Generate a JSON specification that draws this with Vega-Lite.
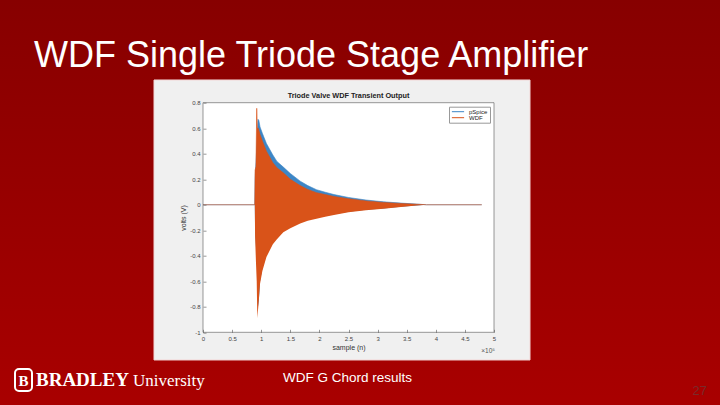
{
  "$schema": "https://vega.github.io/schema/vega-lite/v6.json",
  "autosize": {"type": "none"},
  "width": 291,
  "height": 229.6,
  "padding": {"left": 203, "top": 102.7, "right": 226, "bottom": 72.7},
  "background": "#990000",
  "config": {
    "font": "Liberation Sans",
    "view": {"stroke": null, "fill": null},
    "axis": {"zindex": 1, "grid": false, "domain": false, "labelFontSize": 6, "labelColor": "#444", "tickColor": "#555", "tickWidth": 0.6, "titleFontSize": 7, "titleFontWeight": "normal", "titleColor": "#333", "labelOverlap": false, "labelFlush": false, "labelBound": false, "tickCount": 12}
  },
  "datasets": {
    "signal": [
      {"n": 0, "series": "pSpice", "hi": 0, "lo": 0},
      {"n": 89000, "series": "pSpice", "hi": 0, "lo": 0},
      {"n": 89500, "series": "pSpice", "hi": 0.2, "lo": -0.2},
      {"n": 93000, "series": "pSpice", "hi": 0.5, "lo": -0.5},
      {"n": 94500, "series": "pSpice", "hi": 0.67, "lo": -0.8},
      {"n": 96000, "series": "pSpice", "hi": 0.66, "lo": -0.75},
      {"n": 98000, "series": "pSpice", "hi": 0.61, "lo": -0.6},
      {"n": 102000, "series": "pSpice", "hi": 0.56, "lo": -0.5},
      {"n": 109000, "series": "pSpice", "hi": 0.48, "lo": -0.39},
      {"n": 120000, "series": "pSpice", "hi": 0.39, "lo": -0.3},
      {"n": 127000, "series": "pSpice", "hi": 0.34, "lo": -0.26},
      {"n": 138000, "series": "pSpice", "hi": 0.295, "lo": -0.2},
      {"n": 150000, "series": "pSpice", "hi": 0.245, "lo": -0.17},
      {"n": 167000, "series": "pSpice", "hi": 0.185, "lo": -0.14},
      {"n": 180000, "series": "pSpice", "hi": 0.15, "lo": -0.12},
      {"n": 195000, "series": "pSpice", "hi": 0.118, "lo": -0.1},
      {"n": 210000, "series": "pSpice", "hi": 0.098, "lo": -0.088},
      {"n": 225000, "series": "pSpice", "hi": 0.08, "lo": -0.075},
      {"n": 250000, "series": "pSpice", "hi": 0.057, "lo": -0.055},
      {"n": 280000, "series": "pSpice", "hi": 0.037, "lo": -0.04},
      {"n": 310000, "series": "pSpice", "hi": 0.023, "lo": -0.029},
      {"n": 340000, "series": "pSpice", "hi": 0.013, "lo": -0.016},
      {"n": 367000, "series": "pSpice", "hi": 0.005, "lo": -0.005},
      {"n": 384000, "series": "pSpice", "hi": 0, "lo": 0},
      {"n": 479000, "series": "pSpice", "hi": 0, "lo": 0},
      {"n": 0, "series": "WDF", "hi": 0, "lo": 0},
      {"n": 89000, "series": "WDF", "hi": 0, "lo": 0},
      {"n": 89500, "series": "WDF", "hi": 0.27, "lo": -0.25},
      {"n": 91000, "series": "WDF", "hi": 0.3, "lo": -0.45},
      {"n": 92300, "series": "WDF", "hi": 0.756, "lo": -0.6},
      {"n": 93300, "series": "WDF", "hi": 0.6, "lo": -0.89},
      {"n": 95000, "series": "WDF", "hi": 0.6, "lo": -0.8},
      {"n": 98000, "series": "WDF", "hi": 0.55, "lo": -0.62},
      {"n": 102000, "series": "WDF", "hi": 0.5, "lo": -0.52},
      {"n": 109000, "series": "WDF", "hi": 0.42, "lo": -0.41},
      {"n": 120000, "series": "WDF", "hi": 0.33, "lo": -0.31},
      {"n": 127000, "series": "WDF", "hi": 0.29, "lo": -0.27},
      {"n": 138000, "series": "WDF", "hi": 0.25, "lo": -0.215},
      {"n": 150000, "series": "WDF", "hi": 0.2, "lo": -0.185},
      {"n": 167000, "series": "WDF", "hi": 0.15, "lo": -0.148},
      {"n": 180000, "series": "WDF", "hi": 0.12, "lo": -0.125},
      {"n": 195000, "series": "WDF", "hi": 0.095, "lo": -0.11},
      {"n": 210000, "series": "WDF", "hi": 0.08, "lo": -0.095},
      {"n": 225000, "series": "WDF", "hi": 0.065, "lo": -0.08},
      {"n": 250000, "series": "WDF", "hi": 0.047, "lo": -0.058},
      {"n": 280000, "series": "WDF", "hi": 0.03, "lo": -0.043},
      {"n": 310000, "series": "WDF", "hi": 0.018, "lo": -0.031},
      {"n": 340000, "series": "WDF", "hi": 0.01, "lo": -0.017},
      {"n": 367000, "series": "WDF", "hi": 0.004, "lo": -0.005},
      {"n": 384000, "series": "WDF", "hi": 0, "lo": 0},
      {"n": 479000, "series": "WDF", "hi": 0, "lo": 0}
    ]
  },
  "layer": [
    {
      "data": {"values": [{}]},
      "mark": {"type": "rect", "fill": {"gradient": "linear", "x1": 0, "y1": 0, "x2": 0, "y2": 1, "stops": [{"offset": 0, "color": "#860000"}, {"offset": 1, "color": "#aa0000"}]}},
      "encoding": {
        "x": {"datum": -400000, "type": "quantitative", "scale": {"domain": [0, 500000], "nice": false, "zero": false}},
        "x2": {"datum": 950000},
        "y": {"datum": 1.7, "type": "quantitative", "scale": {"domain": [-1, 0.8], "nice": false, "zero": false}},
        "y2": {"datum": -1.7}
      }
    },
    {
      "data": {"values": [{}]},
      "mark": {"type": "rect", "fill": "#f0f0f0", "stroke": "#f3d6d6", "strokeWidth": 1},
      "encoding": {
        "x": {"datum": -84192, "type": "quantitative"},
        "x2": {"datum": 561856},
        "y": {"datum": 0.978, "type": "quantitative"},
        "y2": {"datum": -1.217}
      }
    },
    {
      "data": {"values": [{}]},
      "mark": {"type": "rect", "fill": "#ffffff"},
      "encoding": {
        "x": {"datum": 0, "type": "quantitative"},
        "x2": {"datum": 500000},
        "y": {"datum": 0.8, "type": "quantitative"},
        "y2": {"datum": -1}
      }
    },
    {
      "data": {"name": "signal"},
      "transform": [{"filter": "datum.series === 'pSpice'"}],
      "mark": {"type": "area", "line": {"strokeWidth": 0.6}, "opacity": 1},
      "encoding": {
        "x": {"field": "n", "type": "quantitative", "axis": {"title": "sample (n)", "values": [0, 50000, 100000, 150000, 200000, 250000, 300000, 350000, 400000, 450000, 500000], "tickCount": 12, "labelExpr": "'' + (datum.value / 100000)", "tickSize": -3, "labelPadding": 6, "titlePadding": 2, "zindex": 1}},
        "y": {"field": "hi", "type": "quantitative", "axis": {"title": "volts (V)", "values": [-1, -0.8, -0.6, -0.4, -0.2, 0, 0.2, 0.4, 0.6, 0.8], "tickCount": 12, "labelExpr": "'' + datum.value", "tickSize": -3, "labelPadding": 6, "titlePadding": 3, "zindex": 1}},
        "y2": {"field": "lo"},
        "color": {"field": "series", "type": "nominal", "scale": {"domain": ["pSpice", "WDF"], "range": ["#3d86c6", "#d95319"]},
          "legend": {"title": null, "orient": "top-right", "offset": 4, "fillColor": "white", "strokeColor": "#999", "padding": 2, "symbolType": "stroke", "symbolSize": 150, "symbolStrokeWidth": 1, "labelFontSize": 6, "labelColor": "#222", "rowPadding": 0, "clipHeight": 6, "zindex": 1,
            "encode": {"symbols": {"update": {"stroke": {"scale": "color", "field": "value"}, "fill": {"value": "transparent"}}}}}}
      }
    },
    {
      "data": {"name": "signal"},
      "transform": [{"filter": "datum.series === 'WDF'"}],
      "mark": {"type": "area", "line": {"strokeWidth": 0.6}, "opacity": 1},
      "encoding": {
        "x": {"field": "n", "type": "quantitative"},
        "y": {"field": "hi", "type": "quantitative"},
        "y2": {"field": "lo"},
        "color": {"field": "series", "type": "nominal"}
      }
    },
    {
      "data": {"values": [{}]},
      "mark": {"type": "rect", "fill": null, "fillOpacity": 0, "stroke": "#555", "strokeWidth": 0.6},
      "encoding": {
        "x": {"datum": 0, "type": "quantitative"},
        "x2": {"datum": 500000},
        "y": {"datum": 0.8, "type": "quantitative"},
        "y2": {"datum": -1}
      }
    },
    {
      "data": {"values": [{}]},
      "mark": {"type": "text", "text": "Triode Valve WDF Transient Output", "fontSize": 7.3, "fontWeight": "bold", "color": "#222", "align": "center", "baseline": "alphabetic"},
      "encoding": {"x": {"datum": 250000, "type": "quantitative"}, "y": {"datum": 0.837, "type": "quantitative"}}
    },
    {
      "data": {"values": [{}]},
      "mark": {"type": "text", "text": "×10⁵", "fontSize": 6.5, "color": "#555", "align": "right", "baseline": "alphabetic"},
      "encoding": {"x": {"datum": 501700, "type": "quantitative"}, "y": {"datum": -1.162, "type": "quantitative"}}
    },
    {
      "data": {"values": [{}]},
      "mark": {"type": "text", "text": "WDF Single Triode Stage Amplifier", "fontSize": 36, "color": "#ffffff", "align": "left", "baseline": "alphabetic"},
      "encoding": {"x": {"datum": -290400, "type": "quantitative"}, "y": {"datum": 1.0775, "type": "quantitative"}}
    },
    {
      "data": {"values": [{}]},
      "mark": {"type": "text", "text": "WDF G Chord results", "fontSize": 13.5, "color": "#ffffff", "align": "left", "baseline": "alphabetic"},
      "encoding": {"x": {"datum": 137456, "type": "quantitative"}, "y": {"datum": -1.3896, "type": "quantitative"}}
    },
    {
      "data": {"values": [{}]},
      "mark": {"type": "text", "text": "27", "fontSize": 13, "color": "#7a2a2a", "align": "right", "baseline": "alphabetic"},
      "encoding": {"x": {"datum": 865973, "type": "quantitative"}, "y": {"datum": -1.4915, "type": "quantitative"}}
    },
    {
      "data": {"values": [{}]},
      "mark": {"type": "rect", "fill": null, "fillOpacity": 0, "stroke": "#ffffff", "strokeWidth": 2, "cornerRadius": 4},
      "encoding": {
        "x": {"datum": -323022, "type": "quantitative"},
        "x2": {"datum": -293812},
        "y": {"datum": -1.2877, "type": "quantitative"},
        "y2": {"datum": -1.4602}
      }
    },
    {
      "data": {"values": [{}]},
      "mark": {"type": "text", "text": "B", "font": "Liberation Serif", "fontSize": 15, "fontWeight": "bold", "color": "#ffffff", "align": "center", "baseline": "alphabetic"},
      "encoding": {"x": {"datum": -308417, "type": "quantitative"}, "y": {"datum": -1.421, "type": "quantitative"}}
    },
    {
      "data": {"values": [{}]},
      "mark": {"type": "text", "text": "BRADLEY", "font": "Liberation Serif", "fontSize": 19, "fontWeight": "bold", "color": "#ffffff", "align": "left", "baseline": "alphabetic"},
      "encoding": {"x": {"datum": -286939, "type": "quantitative"}, "y": {"datum": -1.421, "type": "quantitative"}}
    },
    {
      "data": {"values": [{}]},
      "mark": {"type": "text", "text": "University", "font": "Liberation Serif", "fontSize": 17, "color": "#ffffff", "align": "left", "baseline": "alphabetic"},
      "encoding": {"x": {"datum": -120274, "type": "quantitative"}, "y": {"datum": -1.421, "type": "quantitative"}}
    }
  ]
}
